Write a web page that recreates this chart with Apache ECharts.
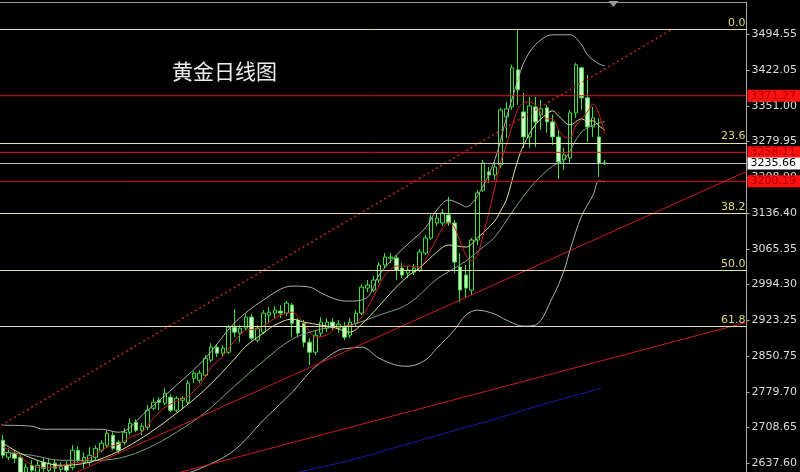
<!DOCTYPE html>
<html><head><meta charset="utf-8">
<script src="https://cdn.jsdelivr.net/npm/echarts@6/dist/echarts.min.js"></script>
<style>html,body{margin:0;padding:0;background:#000;}#c{width:800px;height:472px;}</style>
</head><body><div id="c"></div>
<script>
// ---- data (prices) ----
const opens  = [2683,2649,2657,2649,2619,2633,2619,2639,2623,2637,2625,2633,2629,2663,2639,2639,2649,2663,2673,2693,2679,2679,2699,2719,2703,2709,2747,2763,2757,2769,2743,2763,2759,2807,2803,2813,2843,2869,2857,2859,2909,2897,2907,2929,2883,2899,2933,2937,2941,2937,2953,2923,2917,2879,2859,2897,2907,2919,2907,2909,2893,2917,2937,2987,2983,3003,3033,3047,3047,3027,3017,3019,3023,3057,3087,3117,3117,3133,3117,3029,3013,2983,3083,3183,3219,3213,3233,3329,3349,3423,3339,3289,3349,3333,3347,3319,3289,3243,3247,3337,3427,3367,3309,3289,3237];
const closes = [2653,2659,2647,2613,2629,2623,2633,2627,2637,2627,2631,2623,2663,2643,2649,2653,2667,2677,2697,2667,2663,2699,2717,2703,2711,2743,2759,2759,2777,2743,2767,2767,2797,2817,2817,2847,2869,2857,2867,2909,2899,2907,2929,2887,2907,2937,2939,2943,2937,2957,2917,2897,2879,2859,2893,2919,2919,2909,2915,2889,2919,2937,2989,2993,3003,3033,3049,3049,3023,3013,3023,3027,3059,3087,3127,3127,3137,3117,3039,2983,2987,3083,3177,3237,3213,3229,3343,3345,3427,3383,3289,3351,3319,3345,3319,3289,3239,3253,3337,3433,3367,3309,3327,3237,3235.66];
const lows   = [2647,2643,2637,2607,2611,2615,2613,2619,2619,2619,2619,2615,2623,2637,2627,2633,2643,2659,2669,2663,2657,2673,2693,2699,2693,2703,2743,2743,2753,2739,2739,2747,2755,2797,2797,2809,2839,2849,2851,2855,2889,2879,2903,2883,2879,2895,2917,2927,2927,2931,2889,2891,2869,2833,2853,2891,2899,2903,2897,2883,2887,2911,2933,2979,2979,2997,3027,3037,3003,3007,3007,3013,3019,3053,3083,3111,3111,3111,3017,2959,2969,2973,3073,3179,3197,3203,3227,3287,3343,3353,3267,3267,3269,3303,3297,3273,3205,3223,3237,3327,3343,3279,3289,3209,3233];
const highs  = [2693,2667,2663,2653,2637,2643,2643,2647,2647,2645,2639,2641,2673,2671,2659,2669,2673,2683,2703,2699,2683,2707,2727,2725,2717,2753,2767,2769,2787,2775,2771,2771,2803,2821,2823,2853,2877,2875,2873,2913,2945,2913,2935,2935,2913,2943,2949,2951,2953,2961,2957,2927,2923,2887,2903,2929,2927,2927,2923,2919,2927,2943,2995,3003,3011,3039,3057,3057,3053,3037,3031,3035,3065,3093,3133,3137,3145,3169,3123,3057,3033,3087,3183,3243,3229,3239,3347,3359,3433,3503,3377,3369,3369,3363,3353,3333,3303,3267,3343,3437,3429,3413,3349,3327,3243];

// indicator lines: [bar index, price]
const ma5 = [[0,2669],[2,2659],[4,2641],[6,2629],[8,2629],[10,2631],[12,2637],[14,2641],[16,2655],[18,2669],[20,2675],[22,2689],[24,2699],[26,2727],[28,2749],[30,2761],[32,2771],[34,2793],[36,2829],[38,2851],[40,2881],[42,2903],[44,2905],[46,2919],[48,2933],[50,2939],[52,2917],[54,2889],[56,2893],[58,2911],[60,2911],[62,2929],[64,2969],[66,3013],[68,3031],[70,3031],[72,3029],[74,3065],[76,3107],[77,3119],[78,3109],[79,3081],[80,3053],[81,3041],[82,3053],[83,3093],[84,3139],[85,3187],[86,3239],[87,3273],[88,3311],[89,3345],[90,3357],[91,3359],[92,3353],[93,3337],[94,3325],[95,3325],[96,3303],[97,3289],[98,3287],[99,3311],[100,3325],[101,3339],[102,3355],[103,3335],[104,3295]];
const ma10 = [[0,2677],[3,2657],[7,2639],[10,2633],[15,2639],[20,2661],[25,2695],[30,2737],[35,2785],[40,2845],[42,2871],[45,2897],[47,2913],[50,2925],[52,2919],[55,2913],[57,2909],[60,2899],[62,2915],[65,2951],[67,2977],[70,3011],[72,3027],[75,3059],[77,3073],[80,3069],[82,3087],[85,3121],[86,3141],[87,3163],[88,3203],[89,3243],[90,3273],[92,3313],[94,3335],[95,3341],[96,3331],[98,3313],[100,3325],[101,3321],[102,3321],[103,3311],[104,3303]];
const ma20 = [[0,2659],[5,2653],[10,2643],[15,2643],[20,2647],[25,2667],[30,2699],[35,2739],[40,2791],[45,2841],[50,2885],[55,2905],[60,2913],[65,2933],[70,2955],[75,3005],[80,3041],[83,3069],[85,3089],[88,3139],[90,3171],[92,3199],[95,3231],[97,3243],[100,3299],[103,3317],[104,3319]];
const bbUpper = [[0,2713],[5,2711],[7,2705],[15,2705],[17,2705],[20,2699],[25,2743],[30,2793],[35,2847],[40,2917],[45,2963],[50,2991],[53,2989],[55,2977],[58,2963],[60,2961],[63,2969],[65,3013],[68,3053],[70,3075],[73,3107],[75,3143],[77,3163],[79,3155],[80,3149],[82,3171],[85,3243],[87,3327],[89,3403],[90,3437],[92,3473],[95,3493],[98,3493],[100,3473],[101,3453],[103,3435],[104,3431]];
const bbLower = [[25,2583],[30,2609],[35,2631],[40,2663],[45,2723],[50,2779],[53,2819],[55,2839],[58,2863],[60,2867],[62,2869],[65,2847],[68,2833],[70,2831],[73,2843],[75,2867],[78,2903],[80,2933],[82,2943],[85,2935],[87,2923],[90,2911],[92,2913],[95,2969],[97,3023],[98,3063],[100,3131],[102,3173],[103,3201],[104,3199]];
const maLong = [[51,2619],[60,2643],[68,2669],[77,2699],[85.5,2727],[94,2757],[103.5,2787]];

// trendlines: two points each [bar index, price]
const dottedTrend = [[-0.3,2713],[115.5,3503]];
const redTrend1 = [[12.7,2619],[128.7,3221]];
const redTrend2 = [[30.6,2619],[128.7,2919]];

// horizontal levels
const fibValues = [3504, 3277, 3136, 3022, 2910];
const fibLabels = ['0.0', '23.6', '38.2', '50.0', '61.8'];
const redLevels = [3371.27, 3258.11, 3200.19];
const lastPrice = 3235.66;
const tickLabels = [3494.55, 3422.05, 3351.00, 3279.95, 3208.90, 3136.40, 3065.35, 2994.30, 2923.25, 2850.75, 2779.70, 2708.65, 2637.60];
const title = '黄金日线图';

const N = 129; // bar slots incl. right shift
const slots = Array.from({length: N}, (_, i) => String(i + 1));
const candles = opens.map((o, i) => [o, closes[i], lows[i], highs[i]]);

const chart = echarts.init(document.getElementById('c'), null, {renderer: 'canvas'});
const line = (name, data, color, extra) => Object.assign({
  name, type: 'line', xAxisIndex: 1, data, symbol: 'none', smooth: 0.35,
  lineStyle: {color, width: 1}, silent: true, z: 4, animation: false
}, extra || {});
const levelSeries = (name, items, color, z) => ({
  name, type: 'line', xAxisIndex: 1, data: [], silent: true, z,
  markLine: {silent: true, symbol: 'none', animation: false, emphasis: {disabled: true},
             lineStyle: {color, width: 1, type: 'solid'}, data: items}
});

const fibItems = fibValues.map((v, k) => ({
  yAxis: v,
  lineStyle: {color: '#e4e0a8', width: 1, type: 'solid'},
  label: {show: true, position: 'insideEndTop', formatter: fibLabels[k], color: '#e0d878', fontSize: 11, distance: [1, 1], fontFamily: 'DejaVu Sans'}
}));
const redItems = redLevels.map(v => ({
  yAxis: v,
  lineStyle: {color: 'rgba(0,0,0,0)', width: 1, type: 'solid'},
  label: {show: true, position: 'end', distance: 1, formatter: v.toFixed(2), color: '#a80000', backgroundColor: '#ff1010', padding: [1, 6, 0, 3], fontSize: 11, fontFamily: 'DejaVu Sans'}
}));
const lastItems = [{
  yAxis: lastPrice,
  lineStyle: {color: '#bdbdbd', width: 1, type: 'solid'},
  label: {show: true, position: 'end', distance: 1, formatter: lastPrice.toFixed(2), color: '#000', backgroundColor: '#ffffff', padding: [1, 6, 0, 3], fontSize: 11, fontFamily: 'DejaVu Sans'}
}];
// red horizontal level lines as plain two-point series across the plot
const redLevelLines = redLevels.map((v, k) => line('red level ' + (k + 1), [[-0.5, v], [N - 0.5, v]], '#e81010', {smooth: false, z: 7}));

chart.setOption({
  backgroundColor: '#000000',
  animation: false,
  title: {text: title, left: 167, top: 56, textStyle: {color: '#ececec', fontSize: 21, fontWeight: 'normal', fontFamily: 'Noto Sans CJK SC'}},
  grid: {left: 0, right: 47, top: 2, bottom: 0},
  xAxis: [
    {type: 'category', data: slots, position: 'top', boundaryGap: true,
     axisLine: {show: true, onZero: false, lineStyle: {color: '#9a9a9a'}}, axisTick: {show: false}, axisLabel: {show: false}, splitLine: {show: false}},
    {type: 'value', min: -0.5, max: N - 0.5, show: false, axisLine: {onZero: false}}
  ],
  yAxis: {
    type: 'value', position: 'right', min: 2619.6, max: 3558.5,
    axisLine: {show: true, onZero: false, lineStyle: {color: '#a8a8a8'}},
    axisTick: {show: true, length: 3, lineStyle: {color: '#a8a8a8'}, customValues: tickLabels},
    axisLabel: {color: '#dcdcdc', fontSize: 11, margin: 5, fontFamily: 'DejaVu Sans', customValues: tickLabels, formatter: v => v.toFixed(2)},
    splitLine: {show: false}, minorTick: {show: false}, minorSplitLine: {show: false}
  },
  series: [
    {name: 'XAUUSD', type: 'candlestick', data: candles, barWidth: 4, z: 3, clip: true,
     itemStyle: {color: '#000000', color0: '#d2f5d0', borderColor: '#3ee03e', borderColor0: '#3ee03e', borderWidth: 1}},
    line('BB upper', bbUpper, '#a9b4a9'),
    line('BB lower', bbLower, '#a9b4a9'),
    line('MA20', ma20, '#7f9f7f'),
    line('MA10', ma10, '#e2e0a4'),
    line('MA5', ma5, '#d42020', {smooth: 0.25}),
    line('MA long', maLong, '#1a1aa8', {smooth: 0.3}),
    line('trend dotted', dottedTrend, '#c02828', {smooth: false, lineStyle: {color: '#c02828', width: 1.5, type: [2, 3]}}),
    line('trend 1', redTrend1, '#cc1c1c', {smooth: false}),
    line('trend 2', redTrend2, '#cc1c1c', {smooth: false}),
    ...redLevelLines,
    levelSeries('fib', fibItems, '#e4e0a8', 5),
    levelSeries('red levels', redItems, 'rgba(0,0,0,0)', 8),
    Object.assign(levelSeries('last', lastItems, '#bdbdbd', 5), {
      markPoint: {silent: true, animation: false, data: [{coord: [105.5, 3554.5], symbol: 'triangle', symbolSize: [10, 6], symbolRotate: 180, itemStyle: {color: '#9a9a9a'}, label: {show: false}}]}
    })
  ]
});
</script></body></html>
